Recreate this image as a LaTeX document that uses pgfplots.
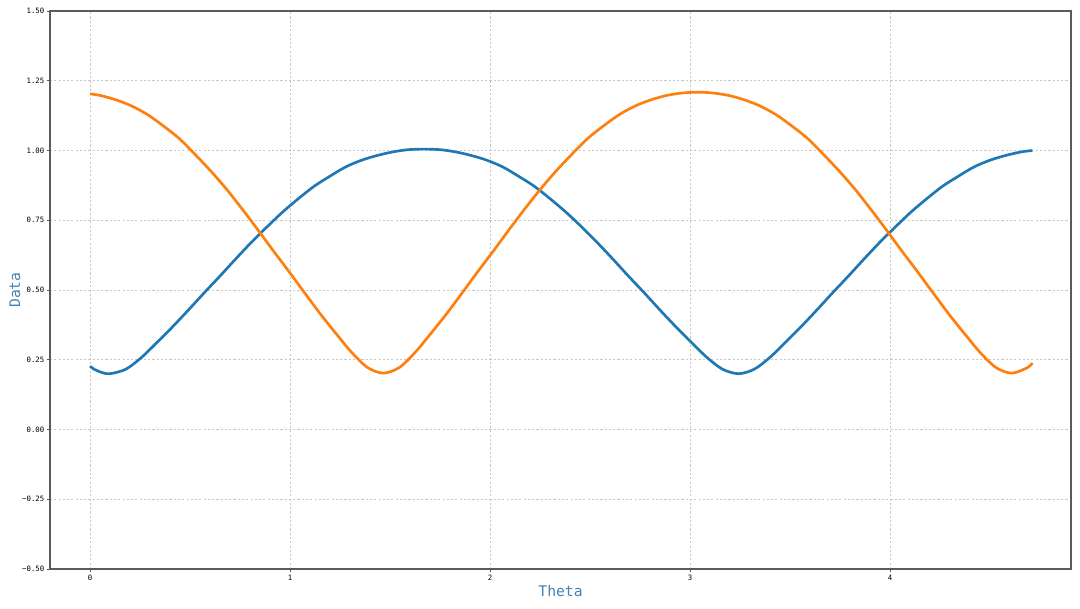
\documentclass[border=0pt]{standalone}
\usepackage{fontspec}
\setmainfont{DejaVu Sans Mono}
\usepackage{pgfplots}
\pgfplotsset{compat=1.18}

\definecolor{mplblue}{HTML}{1F77B4}
\definecolor{mplorange}{HTML}{FF7F0E}
\definecolor{labelblue}{HTML}{4682B4}
\definecolor{spine}{HTML}{5A5A5A}

\pgfplotstableread{
x y
0.000 0.227
0.021 0.216
0.061 0.204
0.100 0.200
0.179 0.216
0.257 0.258
0.336 0.313
0.414 0.369
0.493 0.429
0.571 0.490
0.650 0.550
0.728 0.611
0.807 0.671
0.886 0.727
0.964 0.780
1.043 0.828
1.121 0.872
1.200 0.908
1.278 0.941
1.357 0.965
1.435 0.982
1.514 0.995
1.592 1.003
1.671 1.005
1.750 1.003
1.828 0.995
1.907 0.982
1.985 0.965
2.064 0.941
2.142 0.908
2.221 0.872
2.299 0.828
2.378 0.780
2.457 0.727
2.535 0.671
2.614 0.611
2.692 0.550
2.771 0.490
2.849 0.429
2.928 0.369
3.006 0.313
3.085 0.258
3.163 0.216
3.242 0.200
3.321 0.216
3.399 0.258
3.478 0.313
3.556 0.369
3.635 0.429
3.713 0.490
3.792 0.550
3.870 0.611
3.949 0.671
4.028 0.727
4.106 0.780
4.185 0.828
4.263 0.872
4.342 0.908
4.420 0.941
4.499 0.965
4.577 0.982
4.656 0.995
4.712 1.000
}\bluedata

\pgfplotstableread{
x y
0.000 1.203
0.053 1.197
0.132 1.181
0.210 1.159
0.289 1.128
0.367 1.088
0.446 1.043
0.524 0.987
0.603 0.927
0.682 0.862
0.760 0.791
0.839 0.716
0.917 0.640
0.996 0.565
1.074 0.489
1.153 0.413
1.231 0.343
1.310 0.275
1.388 0.222
1.467 0.202
1.546 0.222
1.624 0.275
1.703 0.343
1.781 0.413
1.860 0.489
1.938 0.565
2.017 0.640
2.095 0.716
2.174 0.791
2.253 0.862
2.331 0.927
2.410 0.987
2.488 1.043
2.567 1.088
2.645 1.128
2.724 1.159
2.802 1.181
2.881 1.197
2.959 1.206
3.038 1.209
3.117 1.206
3.195 1.197
3.274 1.181
3.352 1.159
3.431 1.128
3.509 1.088
3.588 1.043
3.666 0.987
3.745 0.927
3.824 0.862
3.902 0.791
3.981 0.716
4.059 0.640
4.138 0.565
4.216 0.489
4.295 0.413
4.373 0.343
4.452 0.275
4.530 0.222
4.609 0.202
4.688 0.222
4.712 0.238
}\orangedata

\begin{document}
\begin{tikzpicture}
\begin{axis}[
    width=765.75pt, height=418.5pt,
    scale only axis,
    xmin=-0.2, xmax=4.905,
    ymin=-0.5, ymax=1.5,
    xtick={0,1,2,3,4},
    ytick={-0.5,-0.25,0,0.25,0.5,0.75,1,1.25,1.5},
    yticklabels={−0.50,−0.25,0.00,0.25,0.50,0.75,1.00,1.25,1.50},
    /pgf/number format/assume math mode=true,
    xtick pos=bottom, ytick pos=left,
    tick align=outside,
    major tick length=2.6pt,
    tick style={spine, line width=0.6pt},
    axis line style={spine, line width=0.8pt},
    ticklabel style={font=\fontsize{5.5}{6.5}\selectfont, inner sep=1.5pt},
    grid=major,
    major grid style={black!22, dash pattern=on 1.6pt off 1.6pt, line width=0.4pt},
    xlabel={Theta}, ylabel={Data},
    label style={font=\fontsize{11}{13}\selectfont, text=labelblue},
    xlabel style={at={(axis description cs:0.5,-0.039)}, anchor=center},
    ylabel style={at={(axis description cs:-0.0343,0.5)}, anchor=center},
    clip=false,
]
\addplot[mplblue, line width=2pt, smooth] table[x=x, y=y] {\bluedata};
\addplot[mplorange, line width=2pt, smooth] table[x=x, y=y] {\orangedata};
\coordinate (sw) at (rel axis cs:0,0);
\coordinate (ne) at (rel axis cs:1,1);
\end{axis}
\pgfresetboundingbox
\useasboundingbox ([shift={(-37.5pt,-29.25pt)}]sw) rectangle ([shift={(6.75pt,8.25pt)}]ne);
\end{tikzpicture}
\end{document}
